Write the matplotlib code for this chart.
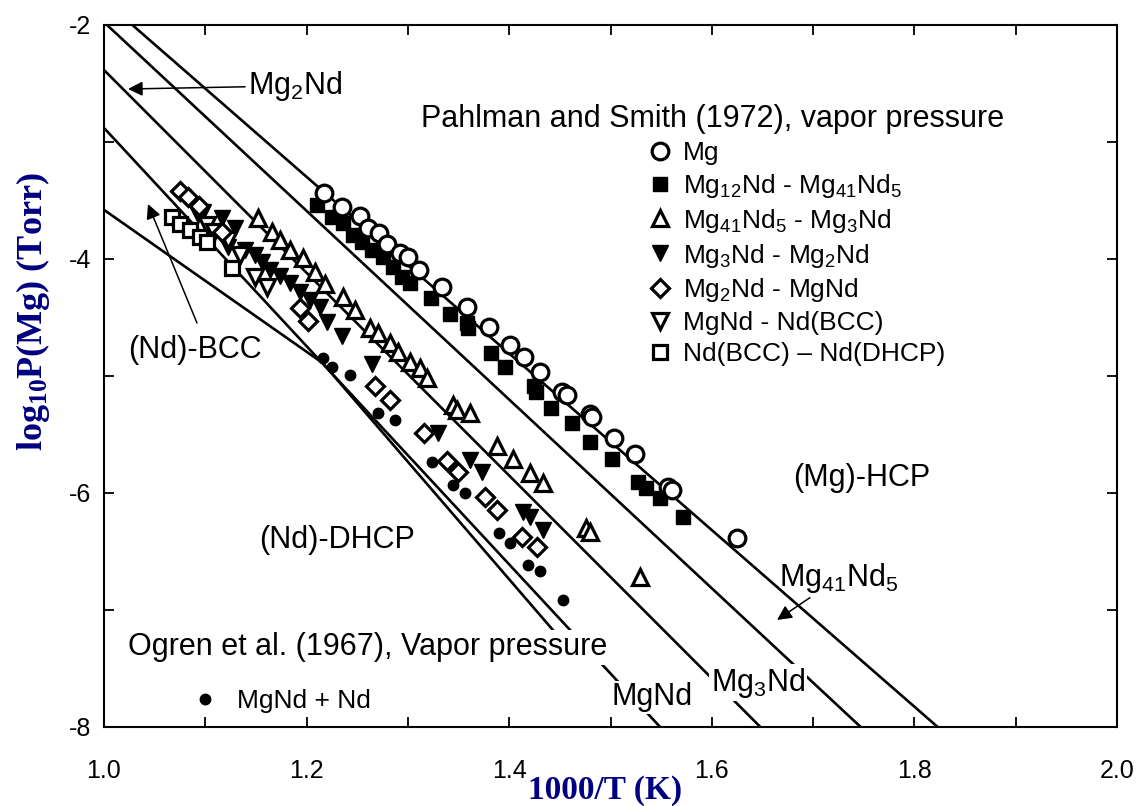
import matplotlib.pyplot as plt
from matplotlib.lines import Line2D

plt.rcParams['font.family'] = ['Liberation Sans', 'DejaVu Sans']
plt.rcParams['mathtext.default'] = 'regular'
plt.rcParams['axes.unicode_minus'] = False

# ---- Pahlman and Smith (1972) vapor pressure data: 1000/T, log10 P ----
mg_x = [1.217, 1.235, 1.253, 1.261, 1.271, 1.279, 1.292, 1.300, 1.311, 1.334,
        1.358, 1.380, 1.401, 1.415, 1.430, 1.452, 1.457, 1.480, 1.482, 1.503,
        1.524, 1.557, 1.561, 1.625]
mg_y = [-3.436, -3.556, -3.632, -3.735, -3.778, -3.872, -3.949, -3.983, -4.094, -4.239,
        -4.410, -4.581, -4.735, -4.838, -4.966, -5.137, -5.162, -5.325, -5.350, -5.530,
        -5.667, -5.949, -5.974, -6.385]

mg12_x = [1.210, 1.225, 1.236, 1.246, 1.255, 1.265, 1.275, 1.285, 1.294, 1.302,
          1.323, 1.342, 1.358, 1.359, 1.382, 1.396, 1.424, 1.426, 1.441, 1.462,
          1.480, 1.501, 1.527, 1.535, 1.549, 1.572]
mg12_y = [-3.538, -3.641, -3.692, -3.795, -3.855, -3.923, -3.983, -4.068, -4.154, -4.205,
          -4.333, -4.470, -4.547, -4.590, -4.803, -4.923, -5.085, -5.137, -5.274, -5.402,
          -5.564, -5.709, -5.906, -5.957, -6.043, -6.205]

mg41_x = [1.152, 1.166, 1.174, 1.184, 1.196, 1.208, 1.218, 1.236, 1.248, 1.263,
          1.270, 1.282, 1.290, 1.302, 1.312, 1.319, 1.345, 1.348, 1.361, 1.388,
          1.404, 1.421, 1.433, 1.476, 1.480, 1.529]
mg41_y = [-3.650, -3.769, -3.838, -3.923, -3.991, -4.111, -4.214, -4.325, -4.436, -4.590,
          -4.632, -4.718, -4.795, -4.880, -4.932, -5.017, -5.248, -5.291, -5.316, -5.598,
          -5.709, -5.829, -5.915, -6.299, -6.333, -6.718]

mg3_x = [1.098, 1.116, 1.129, 1.122, 1.139, 1.149, 1.156, 1.164, 1.174, 1.184,
         1.193, 1.203, 1.213, 1.220, 1.235, 1.265, 1.330, 1.361, 1.373, 1.414,
         1.421, 1.433]
mg3_y = [-3.598, -3.650, -3.735, -3.897, -3.923, -3.966, -4.026, -4.094, -4.145, -4.205,
         -4.282, -4.350, -4.410, -4.538, -4.658, -4.897, -5.487, -5.718, -5.821, -6.162,
         -6.205, -6.316]

mg2_x = [1.075, 1.083, 1.094, 1.116, 1.193, 1.201, 1.268, 1.282, 1.316, 1.339,
         1.349, 1.376, 1.388, 1.413, 1.427]
mg2_y = [-3.419, -3.470, -3.547, -3.769, -4.419, -4.530, -5.085, -5.205, -5.487, -5.726,
         -5.821, -6.034, -6.145, -6.376, -6.462]

mgnd_x = [1.093, 1.102, 1.109, 1.122, 1.134, 1.149, 1.161]
mgnd_y = [-3.607, -3.709, -3.769, -3.838, -3.966, -4.154, -4.239]

ndbcc_x = [1.067, 1.075, 1.085, 1.095, 1.102, 1.126]
ndbcc_y = [-3.641, -3.701, -3.752, -3.812, -3.855, -4.077]

# ---- Ogren et al. (1967) ----
ogren_x = [1.216, 1.225, 1.243, 1.270, 1.287, 1.324, 1.345, 1.356, 1.390, 1.401,
           1.419, 1.430, 1.453]
ogren_y = [-4.846, -4.923, -4.991, -5.316, -5.376, -5.735, -5.932, -6.000, -6.342, -6.427,
           -6.615, -6.667, -6.915]

# ---- calculated phase boundaries ----
hcp_x = [1.028, 1.823]          # (Mg)-HCP / Mg41Nd5
hcp_y = [-2.0, -8.0]
mg41nd5_x = [1.003, 1.747]      # Mg41Nd5 / Mg3Nd
mg41nd5_y = [-2.0, -8.0]
mg3nd_x = [1.0, 1.648]          # Mg3Nd / Mg2Nd
mg3nd_y = [-2.385, -8.0]
mgnd_line_x = [1.0, 1.549]      # MgNd / Nd
mgnd_line_y = [-2.88, -8.0]
nd_line_x = [1.0, 1.216, 1.451]  # Nd(BCC) / Nd(DHCP)
nd_line_y = [-3.58, -4.89, -7.25]

fig = plt.figure(figsize=(11.48, 8.06), dpi=100)
W, H = 1148, 806
ax = fig.add_axes([104 / W, 1 - 727 / H, (1117 - 104) / W, (727 - 25) / H])

lw = 1.9
for xs, ys in [(hcp_x, hcp_y), (mg41nd5_x, mg41nd5_y), (mg3nd_x, mg3nd_y),
               (mgnd_line_x, mgnd_line_y), (nd_line_x, nd_line_y)]:
    ax.plot(xs, ys, color='black', lw=lw, zorder=2, solid_capstyle='butt')

ms = 12
mew = 2.3
open_kw = dict(ls='none', mfc='white', mec='black', mew=mew)
fill_kw = dict(ls='none', mfc='black', mec='black', mew=1)

h_mg12, = ax.plot(mg12_x, mg12_y, 's', ms=10, zorder=3, **fill_kw)
h_mg, = ax.plot(mg_x, mg_y, 'o', ms=ms, zorder=4, **open_kw)
h_mg3, = ax.plot(mg3_x, mg3_y, 'v', ms=ms, zorder=3, **fill_kw)
h_mgnd, = ax.plot(mgnd_x, mgnd_y, 'v', ms=ms, zorder=3, **open_kw)
h_mg41, = ax.plot(mg41_x, mg41_y, '^', ms=ms, zorder=4, **open_kw)
h_mg2, = ax.plot(mg2_x, mg2_y, 'D', ms=9, zorder=4, **open_kw)
h_nd, = ax.plot(ndbcc_x, ndbcc_y, 's', ms=10.5, zorder=4, **open_kw)
h_og, = ax.plot(ogren_x, ogren_y, 'o', ms=7.5, zorder=3, ls='none',
                mfc='black', mec='black')

ax.set_xlim(1.0, 2.0)
ax.set_ylim(-8, -2)
ax.set_xticks([1.0, 1.2, 1.4, 1.6, 1.8, 2.0])
ax.set_xticks([1.1, 1.3, 1.5, 1.7, 1.9], minor=True)
ax.set_yticks([-8, -6, -4, -2])
ax.set_yticks([-7, -5, -3], minor=True)
ax.tick_params(which='both', direction='in', top=True, right=True,
               length=7, width=1.3, labelsize=18)
ax.tick_params(axis='x', which='both', pad=23)
ax.tick_params(axis='y', which='both', pad=9)
for sp in ax.spines.values():
    sp.set_linewidth(1.5)

# legend for Pahlman and Smith
leg1 = ax.legend(
    [h_mg, h_mg12, h_mg41, h_mg3, h_mg2, h_mgnd, h_nd],
    ['Mg', 'Mg$_{12}$Nd - Mg$_{41}$Nd$_5$', 'Mg$_{41}$Nd$_5$ - Mg$_3$Nd',
     'Mg$_3$Nd - Mg$_2$Nd', 'Mg$_2$Nd - MgNd', 'MgNd - Nd(BCC)',
     'Nd(BCC) \u2013 Nd(DHCP)'],
    loc='upper left', bbox_to_anchor=(647 / W, 1 - 141 / H),
    bbox_transform=fig.transFigure, frameon=False, fontsize=19,
    handlelength=1.0, handletextpad=0.35, labelspacing=0.26,
    borderpad=0, borderaxespad=0, numpoints=1)
ax.add_artist(leg1)
ax.legend([h_og], ['MgNd + Nd'], loc='upper left',
          bbox_to_anchor=(192 / W, 1 - 689 / H), bbox_transform=fig.transFigure,
          frameon=False, fontsize=19, handlelength=1.0, handletextpad=0.72,
          borderpad=0, borderaxespad=0, numpoints=1)

ax.text(1.313, -2.80, 'Pahlman and Smith (1972), vapor pressure',
        fontsize=22, ha='left', va='center')
ax.text(1.0237, -7.32, 'Ogren et al. (1967), Vapor pressure', fontsize=22,
        ha='left', va='center', zorder=5,
        bbox=dict(facecolor='white', edgecolor='none', pad=2))

ax.text(1.748, -5.872, '(Mg)-HCP', fontsize=22, ha='center', va='center')
ax.text(1.230, -6.402, '(Nd)-DHCP', fontsize=22, ha='center', va='center')
ax.text(1.090, -4.778, '(Nd)-BCC', fontsize=22, ha='center', va='center')
ax.text(1.541, -7.744, 'MgNd', fontsize=22, ha='center', va='center', zorder=5,
        bbox=dict(facecolor='white', edgecolor='none', pad=1))
ax.text(1.6456, -7.62, 'Mg$_3$Nd', fontsize=22, ha='center', va='center',
        zorder=5, bbox=dict(facecolor='white', edgecolor='none', pad=1))

arrow_kw = dict(arrowstyle='-|>', color='black', lw=1.1, mutation_scale=22,
                shrinkA=0, shrinkB=0)
ax.annotate('Mg$_2$Nd', xy=(1.0237, -2.547), xytext=(1.142, -2.52),
            fontsize=22, ha='left', va='center', arrowprops=arrow_kw)
ax.annotate('', xy=(1.0434, -3.530), xytext=(1.0918, -4.547),
            arrowprops=arrow_kw)
ax.annotate('Mg$_{41}$Nd$_5$', xy=(1.6644, -7.085), xytext=(1.7256, -6.726),
            fontsize=22, ha='center', va='center', arrowprops=arrow_kw)

fig.text(605 / W, 1 - 790 / H, '1000/T (K)', fontsize=24, color='navy',
         family='Liberation Serif', weight='bold', ha='center', va='center')
fig.text(33 / W, 1 - 312 / H, 'log$_{10}$P(Mg) (Torr)', fontsize=26,
         color='navy', family='Liberation Serif', weight='bold',
         rotation=90, ha='center', va='center')

fig.savefig('out.png', dpi=100)
